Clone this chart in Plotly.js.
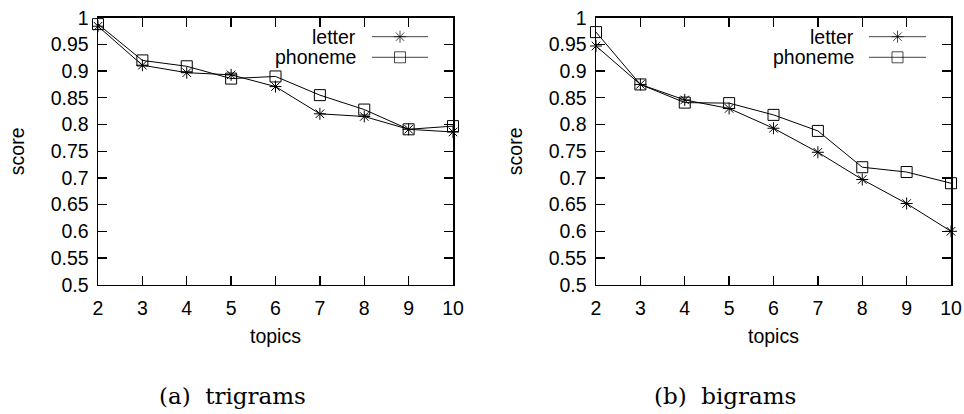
<!DOCTYPE html>
<html>
<head>
<meta charset="utf-8">
<script src="https://cdn.plot.ly/plotly-3.0.1.min.js"></script>
<style>
  html, body { margin: 0; padding: 0; background: #fff; }
  #chart { width: 964px; height: 414px; }
</style>
</head>
<body>
<div id="chart"></div>
<script>
// ---- data ----
const topics = [2, 3, 4, 5, 6, 7, 8, 9, 10];
const xTickLabels = ['2', '3', '4', '5', '6', '7', '8', '9', '10'];
const yTickVals = [0.5, 0.55, 0.6, 0.65, 0.7, 0.75, 0.8, 0.85, 0.9, 0.95, 1];
const yTickLabels = ['0.5', '0.55', '0.6', '0.65', '0.7', '0.75', '0.8', '0.85', '0.9', '0.95', '1'];

const trigramLetter  = [0.984, 0.911, 0.897, 0.893, 0.871, 0.820, 0.815, 0.791, 0.786];
const trigramPhoneme = [0.988, 0.920, 0.909, 0.886, 0.890, 0.855, 0.828, 0.791, 0.797];
const bigramLetter   = [0.947, 0.875, 0.846, 0.830, 0.793, 0.748, 0.697, 0.652, 0.600];
const bigramPhoneme  = [0.973, 0.875, 0.841, 0.840, 0.818, 0.788, 0.720, 0.711, 0.690];

const seriesNames = ['letter', 'phoneme'];
const captions = ['(a)&#160;&#160;trigrams', '(b)&#160;&#160;bigrams'];
const xTitle = 'topics';
const yTitle = 'score';

// ---- styling ----
const W = 964, H = 414;
const sans = 'Liberation Sans, Arial, sans-serif';
const serif = 'DejaVu Serif, serif';
const fs = 19.5;
const lineColor = '#000';
const symbols = ['asterisk-open', 'square-open'];
const symSizes = [10, 11];

const panels = [
  {x0: 98, x1: 453, xa: 'x', ya: 'y', data: [trigramLetter, trigramPhoneme], caption: captions[0], capX: 232,
   legTextRight: 358, legLine: [372, 428]},
  {x0: 596, x1: 951, xa: 'x2', ya: 'y2', data: [bigramLetter, bigramPhoneme], caption: captions[1], capX: 725,
   legTextRight: 856, legLine: [869, 926]}
];
const plotTop = 17.7, plotBottom = 284.7;
const legRows = [36.7, 57.3];

const traces = [];
const annotations = [];
const layout = {
  width: W, height: H,
  margin: {l: 0, r: 0, t: 0, b: 0},
  paper_bgcolor: '#fff', plot_bgcolor: '#fff',
  showlegend: false,
  font: {family: sans, size: fs, color: '#000'},
  annotations: annotations,
  shapes: []
};

function axisCommon() {
  return {
    showgrid: false, zeroline: false,
    showline: true, linecolor: '#000', linewidth: 1.5, mirror: 'ticks',
    ticks: 'inside', ticklen: 9, tickwidth: 1.3, tickcolor: '#000',
    tickfont: {family: sans, size: fs, color: '#000'},
    fixedrange: true
  };
}

panels.forEach((p, i) => {
  const xa = Object.assign(axisCommon(), {
    domain: [p.x0 / W, p.x1 / W],
    range: [2, 10],
    tickmode: 'array', tickvals: topics, ticktext: xTickLabels,
    anchor: p.ya, ticklabelstandoff: 5
  });
  const ya = Object.assign(axisCommon(), {
    domain: [1 - plotBottom / H, 1 - plotTop / H],
    range: [0.5, 1],
    tickmode: 'array', tickvals: yTickVals, ticktext: yTickLabels,
    anchor: p.xa, ticklabelstandoff: 4
  });
  const xk = i === 0 ? 'xaxis' : 'xaxis2';
  const yk = i === 0 ? 'yaxis' : 'yaxis2';
  layout[xk] = xa;
  layout[yk] = ya;

  p.data.forEach((vals, s) => {
    traces.push({
      type: 'scatter', mode: 'lines+markers',
      x: topics, y: vals, xaxis: p.xa, yaxis: p.ya,
      name: seriesNames[s], cliponaxis: false,
      line: {color: lineColor, width: 1},
      marker: {symbol: symbols[s], size: symSizes[s], color: lineColor, line: {color: lineColor, width: 1}}
    });
  });

  // axis titles
  annotations.push({
    text: yTitle, xref: 'paper', yref: 'paper',
    x: (p.x0 - 81) / W, y: 1 - ((plotTop + plotBottom) / 2) / H,
    xanchor: 'center', yanchor: 'middle', textangle: -90, showarrow: false,
    font: {family: sans, size: fs, color: '#000'}
  });
  annotations.push({
    text: xTitle, xref: 'paper', yref: 'paper',
    x: ((p.x0 + p.x1) / 2) / W, y: 1 - 336 / H,
    xanchor: 'center', yanchor: 'middle', showarrow: false,
    font: {family: sans, size: fs, color: '#000'}
  });
  // caption
  annotations.push({
    text: p.caption, xref: 'paper', yref: 'paper',
    x: p.capX / W, y: 1 - 396 / H,
    xanchor: 'center', yanchor: 'middle', showarrow: false,
    font: {family: serif, size: 23, color: '#000'}
  });

  // legend (gnuplot style: text then sample)
  seriesNames.forEach((nm, s) => {
    annotations.push({
      text: nm, xref: 'paper', yref: 'paper',
      x: p.legTextRight / W, y: 1 - legRows[s] / H,
      xanchor: 'right', yanchor: 'middle', showarrow: false,
      font: {family: sans, size: fs, color: '#000'}
    });
    const n = 3 + i * 2 + s;
    layout['xaxis' + n] = {domain: [p.legLine[0] / W, p.legLine[1] / W], range: [0, 1], visible: false,
      fixedrange: true, anchor: 'y' + n};
    layout['yaxis' + n] = {domain: [1 - (legRows[s] + 5) / H, 1 - (legRows[s] - 5) / H], range: [0, 1],
      visible: false, fixedrange: true, anchor: 'x' + n};
    traces.push({
      type: 'scatter', mode: 'lines+markers',
      x: [0, 0.5, 1], y: [0.5, 0.5, 0.5],
      xaxis: 'x' + n, yaxis: 'y' + n,
      hoverinfo: 'skip', cliponaxis: false,
      line: {color: '#444', width: 1},
      marker: {symbol: symbols[s], size: [0, symSizes[s], 0], color: lineColor, line: {color: lineColor, width: 1}}
    });
  });
});

Plotly.newPlot('chart', traces, layout, {displayModeBar: false, staticPlot: true});
</script>
</body>
</html>
